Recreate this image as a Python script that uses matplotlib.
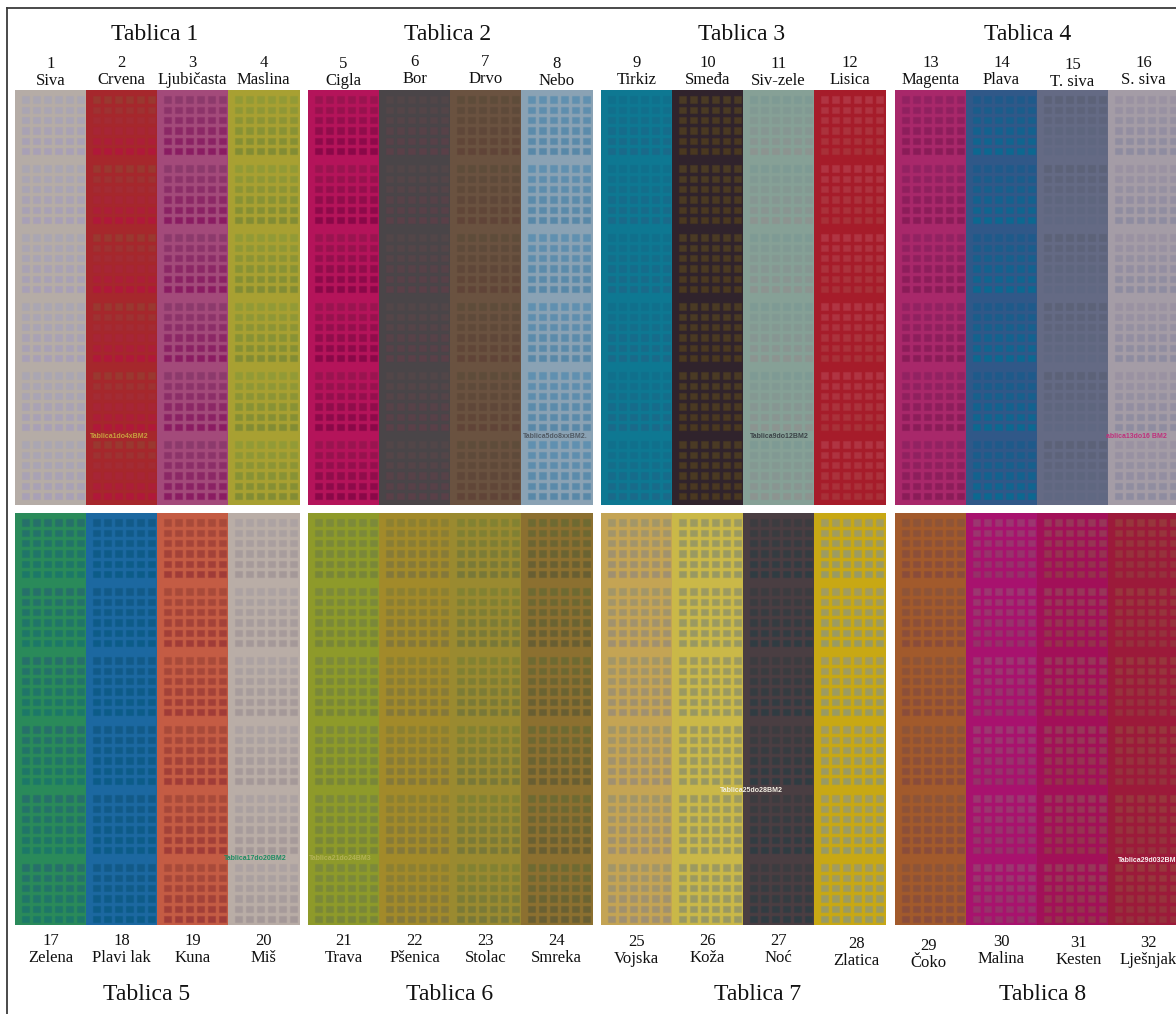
"""Colour swatch sheet: 8 tables of 4 colours, each swatch a grid of small squares."""

import numpy as np
import matplotlib.pyplot as plt
from matplotlib.patches import Rectangle
from matplotlib.collections import PatchCollection
from matplotlib.colors import to_rgb

plt.rcParams['font.family'] = ['Liberation Serif', 'DejaVu Serif']

# ---- data -------------------------------------------------------------
TABLE_TITLES = ["Tablica 1", "Tablica 2", "Tablica 3", "Tablica 4",
                "Tablica 5", "Tablica 6", "Tablica 7", "Tablica 8"]
COL_NUMBERS = list(range(1, 33))
COL_NAMES = ["Siva", "Crvena", "Ljubičasta", "Maslina",
             "Cigla", "Bor", "Drvo", "Nebo",
             "Tirkiz", "Smeđa", "Siv-zele", "Lisica",
             "Magenta", "Plava", "T. siva", "S. siva",
             "Zelena", "Plavi lak", "Kuna", "Miš",
             "Trava", "Pšenica", "Stolac", "Smreka",
             "Vojska", "Koža", "Noć", "Zlatica",
             "Čoko", "Malina", "Kesten", "Lješnjak"]
BG_COLORS = ["#b5aca6", "#a6272c", "#a34a7a", "#a8a032",
             "#b4145a", "#4a4548", "#6a5240", "#8aa2b4",
             "#0e7892", "#30232c", "#86a096", "#a61c2a",
             "#a8286a", "#305888", "#646a84", "#a49ca6",
             "#2a8a5a", "#1c68a0", "#c45c44", "#b9ada6",
             "#8e9a2a", "#a28a2a", "#9a8a30", "#8c7030",
             "#c4a454", "#cab848", "#4a3e42", "#c8a814",
             "#a25a2c", "#a8126e", "#a21058", "#9c1a3a"]
SQ_TOP = ["#aaa6b2", "#9a3830", "#8c3a6c", "#929a36",
          "#9a1450", "#524648", "#5e4c3a", "#6090b0",
          "#10708c", "#4a3a24", "#7e9a94", "#b03442",
          "#922262", "#1e5a8a", "#5c6278", "#9a92a2",
          "#26706a", "#125a88", "#a84a3a", "#aca2a2",
          "#7c8a3a", "#8c8032", "#828232", "#6e6a32",
          "#a29668", "#9c9a60", "#3c3c40", "#a29c5e",
          "#8e5438", "#9c3670", "#983658", "#98363c"]
SQ_BOTTOM = ["#a8a0b6", "#b0183a", "#8a1c62", "#828c34",
             "#8a0848", "#5a4048", "#604438", "#5888a8",
             "#1a6a8a", "#4a3820", "#8c9490", "#a83038",
             "#8a1c58", "#0c6890", "#606882", "#8e8ca0",
             "#1c7868", "#0c5c88", "#a03c38", "#a49898",
             "#788638", "#84783a", "#787838", "#685e32",
             "#a09070", "#989862", "#303c42", "#989a64",
             "#8a4c3a", "#963068", "#96304c", "#96303c"]
STAMP_TEXT = ["Tablica1do4xBM2", "Tablica5do8xxBM2.", "Tablica9do12BM2",
              "ablica13do16 BM2", "Tablica17do20BM2", "Tablica21do24BM3",
              "Tablica25do28BM2", "Tablica29d032BM"]
STAMP_COLORS = ["#c8a040", "#505a64", "#3c4448", "#c0307c",
                "#1e8c62", "#b2b256", "#f4f0e4", "#f8f0f0"]

# ---- layout (pixels) --------------------------------------------------
W, H = 1176, 1014
TABLE_X = [15, 308, 601, 895]
COL_W = 71
PANEL_Y = [90, 513]
PANEL_H = [415, 412]
N_BLOCKS, N_ROWS, N_SQ = 6, 6, 6
SQ_SIZE = 6.3
SQ_X0, SQ_DX = 10.5, 11.0
SQ_Y0, SQ_DY, BLOCK_DY = 9.5, 10.3, 69.0

TITLE_X = [155, 448, 742, 1028, 147, 450, 758, 1043]
TITLE_BASE = [40.5, 1000]
NUM_BASE = [67, 945]
NAME_BASE = [84, 962]
LABEL_DY = [1, 0, 0, 0, 1, -1, -1, 1, 0, 0, 1, 0, 0, 0, 2, 0,
            0, 0, 0, 0, 0, 0, 0, 0, 1, 0, 0, 3, 5, 1, 2, 2]
LABEL_DX = [0] * 27 + [7, -2, 0, 6, 5]
STAMP_X = [90, 523, 750, 1106, 224, 309, 720, 1118]
STAMP_Y = [437, 437, 437, 437, 858, 858, 790, 860]

fig = plt.figure(figsize=(W / 100, H / 100), dpi=100)
ax = fig.add_axes([0, 0, 1, 1])
ax.set_xlim(0, W)
ax.set_ylim(H, 0)
ax.axis("off")

# frame
ax.plot([7, 7], [8, H], color="#3a3a3a", lw=1.3)
ax.plot([7, W], [8, 8], color="#3a3a3a", lw=1.3)

bg_patches, bg_cols = [], []
sq_patches, sq_cols, sq_edges = [], [], []
for i in range(32):
    half = i // 16
    table = (i // 4) % 4
    x0 = TABLE_X[table] + (i % 4) * COL_W
    y0 = PANEL_Y[half]
    bg_patches.append(Rectangle((x0, y0), COL_W + 0.6, PANEL_H[half]))
    bg_cols.append(BG_COLORS[i])
    top, bot = np.array(to_rgb(SQ_TOP[i])), np.array(to_rgb(SQ_BOTTOM[i]))
    for b in range(N_BLOCKS):
        for r in range(N_ROWS):
            col = top + (bot - top) * r / (N_ROWS - 1)
            yc = y0 + SQ_Y0 + b * BLOCK_DY + r * SQ_DY
            for c in range(N_SQ):
                xc = x0 + SQ_X0 + c * SQ_DX
                sq_patches.append(Rectangle((xc - SQ_SIZE / 2, yc - SQ_SIZE / 2),
                                            SQ_SIZE, SQ_SIZE))
                sq_cols.append(col)
                # soft edge, the printed sheet is slightly blurred
                sq_edges.append(np.append(col, 0.45))

ax.add_collection(PatchCollection(bg_patches, facecolors=bg_cols,
                                  edgecolors="none"))
ax.add_collection(PatchCollection(sq_patches, facecolors=sq_cols,
                                  edgecolors=sq_edges, linewidths=0.9))

# column labels
for i in range(32):
    half = i // 16
    table = (i // 4) % 4
    xc = TABLE_X[table] + (i % 4) * COL_W + COL_W / 2 + LABEL_DX[i]
    ax.text(xc, NUM_BASE[half] + LABEL_DY[i], str(COL_NUMBERS[i]),
            ha="center", va="baseline", fontsize=12, color="#111111")
    ax.text(xc, NAME_BASE[half] + LABEL_DY[i], COL_NAMES[i],
            ha="center", va="baseline", fontsize=12, color="#111111")

# table titles
for k, title in enumerate(TABLE_TITLES):
    ax.text(TITLE_X[k], TITLE_BASE[k // 4], title, ha="center",
            va="baseline", fontsize=17, color="#111111")

# small stamps printed on the swatches
for k, s in enumerate(STAMP_TEXT):
    ax.text(STAMP_X[k], STAMP_Y[k], s, ha="left", va="center",
            fontsize=5, fontweight="bold", color=STAMP_COLORS[k],
            family=["Liberation Sans", "DejaVu Sans"])

fig.savefig("out.png", dpi=100, facecolor="white")
